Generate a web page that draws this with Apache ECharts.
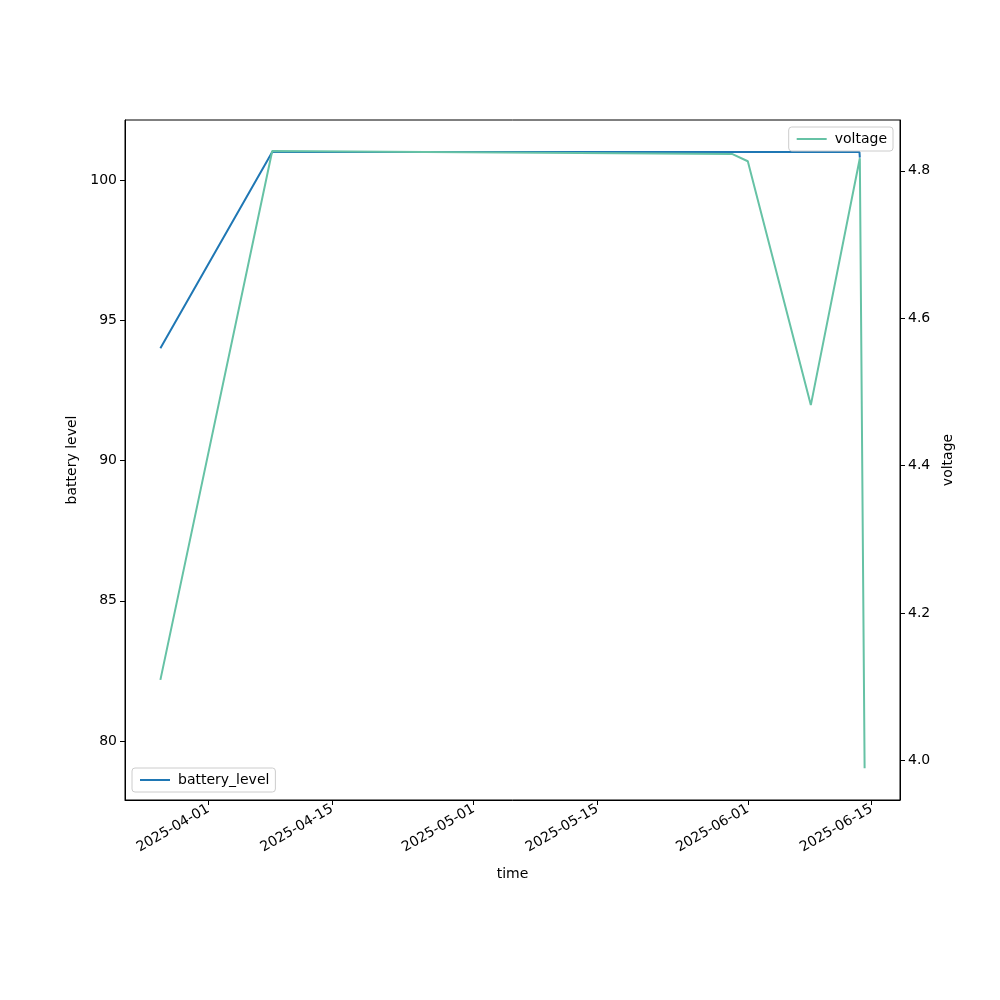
<!DOCTYPE html>
<html><head><meta charset="utf-8">
<script src="https://cdn.jsdelivr.net/npm/echarts@6/dist/echarts.min.js"></script>
<style>html,body{margin:0;padding:0;background:#fff}#c{width:1000px;height:1000px}</style>
</head><body><div id="c"></div>
<script>
const batteryTimes = ['2025-03-26 14:00','2025-04-08 05:30','2025-06-13 15:00','2025-06-13 16:00'];
const batteryValues = [94, 101, 101, 100.8];
const voltageTimes = ['2025-03-26 14:00','2025-04-08 05:30','2025-05-30 05:00','2025-06-01 00:00','2025-06-08 03:00','2025-06-13 16:00','2025-06-14 05:00'];
const voltageValues = [4.109, 4.827, 4.823, 4.813, 4.482, 4.817, 3.989];
const xTickLabels = ['2025-04-01','2025-04-15','2025-05-01','2025-05-15','2025-06-01','2025-06-15'];
const leftTicks = [80, 85, 90, 95, 100];
const rightTicks = [4.0, 4.2, 4.4, 4.6, 4.8];

const ts = s => new Date(s.replace(' ', 'T') + ':00Z').getTime();
const xTickVals = xTickLabels.map(d => new Date(d + 'T00:00:00Z').getTime());
const pad = n => String(n).padStart(2, '0');
const fmtDate = v => { const d = new Date(v); return d.getUTCFullYear() + '-' + pad(d.getUTCMonth() + 1) + '-' + pad(d.getUTCDate()); };
const font = 'DejaVu Sans';
const chart = echarts.init(document.getElementById('c'), null, {renderer: 'canvas'});
chart.setOption({
  animation: false,
  textStyle: {fontFamily: font},
  grid: {left: 125, right: 100, top: 120, bottom: 200, show: true, borderColor: '#000', borderWidth: 1, backgroundColor: 'transparent'},
  xAxis: {
    type: 'value',
    min: ts('2025-03-22 14:00'), max: ts('2025-06-18 05:00'),
    name: 'time', nameLocation: 'middle', nameGap: 67,
    nameTextStyle: {color: '#000', fontSize: 14, fontFamily: font},
    axisLine: {show: true, onZero: false, lineStyle: {color: '#000', width: 1}},
    axisTick: {show: true, length: 5, lineStyle: {color: '#000'}, customValues: xTickVals},
    axisLabel: {customValues: xTickVals, rotate: 30, color: '#000', fontSize: 14, fontFamily: font, margin: 8, formatter: v => fmtDate(v)},
    splitLine: {show: false}
  },
  yAxis: [{
    type: 'value', position: 'left', min: 77.9, max: 102.14,
    name: 'battery level', nameLocation: 'middle', nameGap: 43, nameRotate: 90,
    nameTextStyle: {color: '#000', fontSize: 14, fontFamily: font},
    axisLine: {show: true, lineStyle: {color: '#000'}},
    axisTick: {show: true, length: 5, lineStyle: {color: '#000'}, customValues: leftTicks},
    axisLabel: {customValues: leftTicks, color: '#000', fontSize: 14, fontFamily: font, margin: 8},
    splitLine: {show: false}
  }, {
    type: 'value', position: 'right', min: 3.946, max: 4.869,
    name: 'voltage', nameLocation: 'middle', nameGap: 38, nameRotate: 90,
    nameTextStyle: {color: '#000', fontSize: 14, fontFamily: font},
    axisLine: {show: true, lineStyle: {color: '#000'}},
    axisTick: {show: true, length: 5, lineStyle: {color: '#000'}, customValues: rightTicks},
    axisLabel: {customValues: rightTicks, color: '#000', fontSize: 14, fontFamily: font, margin: 8, formatter: v => v.toFixed(1)},
    splitLine: {show: false}
  }],
  legend: [{
    data: ['battery_level'], left: 132, top: 768, orient: 'vertical',
    backgroundColor: '#fff', borderColor: '#ccc', borderWidth: 1, borderRadius: 3,
    padding: [5, 6, 5, 8], itemWidth: 30, itemHeight: 14, itemGap: 5,
    textStyle: {color: '#000', fontSize: 14, fontFamily: font, padding: [0, 0, 0, 3]}, icon: 'path://M0,6H30V8H0Z'
  }, {
    data: ['voltage'], right: 107, top: 127, orient: 'vertical',
    backgroundColor: '#fff', borderColor: '#ccc', borderWidth: 1, borderRadius: 3,
    padding: [5, 6, 5, 8], itemWidth: 30, itemHeight: 14, itemGap: 5,
    textStyle: {color: '#000', fontSize: 14, fontFamily: font, padding: [0, 0, 0, 3]}, icon: 'path://M0,6H30V8H0Z'
  }],
  series: [{
    name: 'battery_level', type: 'line', yAxisIndex: 0, showSymbol: false, symbol: 'none',
    color: '#1f77b4', lineStyle: {width: 2, color: '#1f77b4'},
    data: batteryTimes.map((t, i) => [ts(t), batteryValues[i]]), z: 2
  }, {
    name: 'voltage', type: 'line', yAxisIndex: 1, showSymbol: false, symbol: 'none',
    color: '#66c2a5', lineStyle: {width: 2, color: '#66c2a5'},
    data: voltageTimes.map((t, i) => [ts(t), voltageValues[i]]), z: 3
  }]
});
</script></body></html>
